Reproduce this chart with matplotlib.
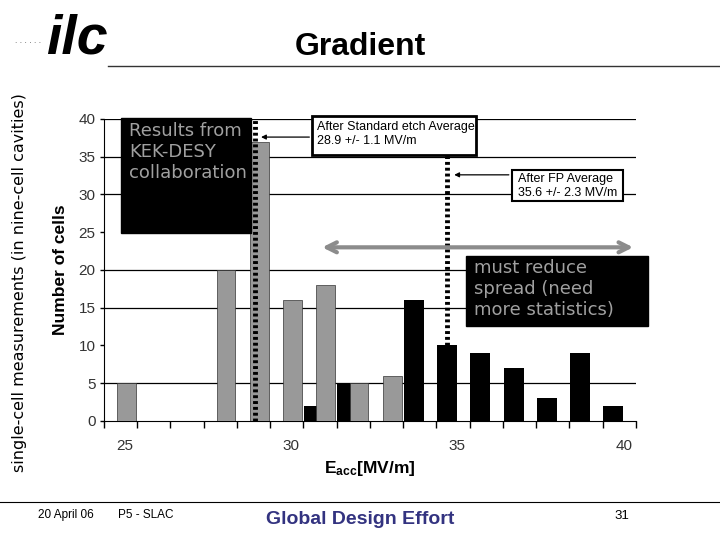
import matplotlib.pyplot as plt
from matplotlib.patches import Rectangle

plt.rcParams['font.family'] = ['Liberation Sans', 'DejaVu Sans']
plt.rcParams['mathtext.fontset'] = 'custom'
plt.rcParams['mathtext.rm'] = 'Liberation Sans'
plt.rcParams['mathtext.bf'] = 'Liberation Sans:bold'

# histogram of single-cell gradients (MV/m)
etch_bins = [25, 28, 29, 30, 31, 32, 33]
etch_counts = [5, 20, 37, 16, 18, 5, 6]
fp_bins = [30, 31, 33, 34, 35, 36, 37, 38, 39]
fp_counts = [2, 5, 16, 10, 9, 7, 3, 9, 2]
x_labels = [25, 30, 35, 40]
y_ticks = [0, 5, 10, 15, 20, 25, 30, 35, 40]
grid_levels = [5, 15, 20, 30, 35, 40]   # the lines that show on the slide
etch_avg_pos = 28.92
fp_avg_pos = 34.70

fig = plt.figure(figsize=(7.2, 5.4), dpi=100)
ax = fig.add_axes([0.1444, 0.2204, 0.7389, 0.5593])

for g in grid_levels:
    ax.axhline(g, color='black', linewidth=0.9, zorder=0)

ax.bar([b + 0.69 for b in fp_bins], fp_counts, width=0.6, color='black', zorder=2)
ax.bar([b + 0.04 for b in etch_bins], etch_counts, width=0.57, color='#999999',
       edgecolor='#333333', linewidth=0.5, zorder=3)

ax.set_xlim(24.37, 40.37)
ax.set_ylim(0, 40)
ax.set_xticks([24.37 + k for k in range(17)])
ax.set_xticklabels([])
ax.set_xticks(x_labels, minor=True)
ax.set_xticklabels([str(v) for v in x_labels], minor=True, fontsize=11, color='#333333')
ax.tick_params(axis='x', which='major', direction='out', length=5, width=1)
ax.tick_params(axis='x', which='minor', length=0, pad=13)
ax.set_yticks(y_ticks)
ax.set_yticklabels([str(v) for v in y_ticks], fontsize=11, color='#333333')
ax.tick_params(axis='y', direction='out', length=3, width=1, pad=3)
for s in ['top', 'right']:
    ax.spines[s].set_visible(False)

ax.set_ylabel('Number of cells', fontsize=12.5, fontweight='bold', labelpad=8)
ax.set_xlabel(r'$\mathbf{E_{acc}}$[MV/m]', fontsize=12.5, fontweight='bold', labelpad=4)

# annotation boxes and averages
ax.add_patch(Rectangle((24.88, 24.9), 3.92, 15.2, color='black', clip_on=False, zorder=5))
ax.text(25.12, 39.6, 'Results from\nKEK-DESY\ncollaboration', family=['DejaVu Sans'],
        fontsize=13, color='#a0a0a0', va='top', linespacing=1.2, zorder=6)

ax.plot([etch_avg_pos, etch_avg_pos], [0, 40.1], color='black', linestyle=(0, (0.6, 0.6)),
        linewidth=3.5, clip_on=False, zorder=6)
ax.plot([fp_avg_pos, fp_avg_pos], [0, 35.2], color='black', linestyle=(0, (0.6, 0.6)),
        linewidth=3.5, clip_on=False, zorder=6)

ax.annotate('', xy=(29.01, 37.6), xytext=(30.63, 37.6),
            arrowprops=dict(arrowstyle='-|>', color='black', lw=0.9, mutation_scale=7), zorder=6)
ax.add_patch(Rectangle((30.63, 35.2), 4.94, 5.2, facecolor='white', edgecolor='black',
                       linewidth=2, clip_on=False, zorder=7))
ax.text(30.78, 39.7, 'After Standard etch Average\n28.9 +/- 1.1 MV/m', fontsize=9,
        va='top', linespacing=1.2, zorder=8)

ax.annotate('', xy=(34.82, 32.6), xytext=(36.63, 32.6),
            arrowprops=dict(arrowstyle='-|>', color='black', lw=0.9, mutation_scale=7), zorder=6)
ax.add_patch(Rectangle((36.63, 29.1), 3.34, 4.1, facecolor='white', edgecolor='black',
                       linewidth=1.5, clip_on=False, zorder=7))
ax.text(36.81, 32.8, 'After FP Average\n35.6 +/- 2.3 MV/m', fontsize=9,
        va='top', linespacing=1.2, zorder=8)

ax.annotate('', xy=(30.85, 23.0), xytext=(40.37, 23.0),
            arrowprops=dict(arrowstyle='<->', color='#8c8c8c', lw=3, mutation_scale=18),
            annotation_clip=False, zorder=6)
ax.add_patch(Rectangle((35.27, 12.6), 5.46, 9.25, color='black', clip_on=False, zorder=7))
ax.text(35.51, 21.4, 'must reduce\nspread (need\nmore statistics)', family=['DejaVu Sans'],
        fontsize=13, color='#a0a0a0', va='top', linespacing=1.2, zorder=8)

# slide furniture
fig.text(20 / 720, 1 - 283 / 540, 'single-cell measurements (in nine-cell cavities)',
         family=['DejaVu Sans'], fontsize=11.5, rotation=90, ha='center', va='center')
fig.text(360 / 720, 1 - 47 / 540, 'Gradient', family=['Liberation Sans Narrow', 'Liberation Sans'],
         fontsize=23, fontweight='bold', ha='center', va='center')
fig.add_artist(plt.Line2D([108 / 720, 1], [1 - 66 / 540] * 2, color='#333333', linewidth=1))
fig.text(77 / 720, 1 - 39 / 540, 'ilc', family=['Liberation Sans Narrow', 'Liberation Sans'],
         fontsize=40, fontweight='bold', style='italic', ha='center', va='center')
fig.text(28 / 720, 1 - 42 / 540, '. . . . . .', fontsize=6, ha='center', va='center', color='#555555')

fig.add_artist(plt.Line2D([0, 1], [1 - 502 / 540] * 2, color='black', linewidth=0.8))
fig.text(38 / 720, 1 - 515 / 540, '20 April 06', fontsize=8.5, va='center')
fig.text(118 / 720, 1 - 515 / 540, 'P5 - SLAC', fontsize=8.5, va='center')
fig.text(360 / 720, 1 - 520 / 540, 'Global Design Effort', fontsize=14, fontweight='bold',
         color='#333380', ha='center', va='center')
fig.text(622 / 720, 1 - 516 / 540, '31', fontsize=9.5, ha='center', va='center')

fig.savefig('out.png', dpi=100)
